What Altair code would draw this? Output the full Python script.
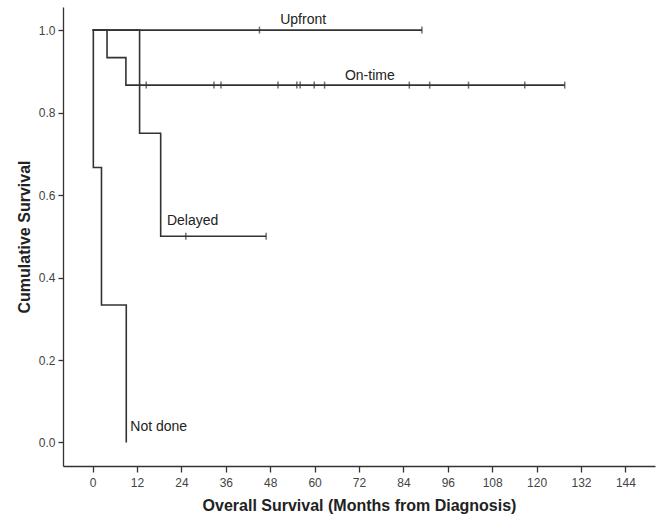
import altair as alt
import pandas as pd

# Kaplan-Meier step curves (months, cumulative survival)
upfront_t = [0, 89.0]
upfront_s = [1.0, 1.0]
ontime_t = [0, 3.9, 9.0, 127.6]
ontime_s = [1.0, 14 / 15, 13 / 15, 13 / 15]
delayed_t = [0, 12.7, 18.4, 46.9]
delayed_s = [1.0, 0.75, 0.5, 0.5]
notdone_t = [0, 0.2, 2.4, 9.1]
notdone_s = [1.0, 2 / 3, 1 / 3, 0.0]

# censored observations
upfront_cens = [45.1, 89.0]
ontime_cens = [14.5, 32.8, 34.7, 50.1, 55.2, 56.1, 59.9, 62.7, 85.6, 91.1, 101.6, 116.8, 127.6]
delayed_cens = [25.2, 46.9]

# group labels and their anchor positions (data coordinates)
label_names = ["Upfront", "On-time", "Delayed", "Not done"]
label_x = [50.7, 68.2, 20.1, 10.2]
label_y = [1.024, 0.888, 0.537, 0.038]

x_ticks = [0, 12, 24, 36, 48, 60, 72, 84, 96, 108, 120, 132, 144]
y_ticks = [0.0, 0.2, 0.4, 0.6, 0.8, 1.0]

rows = []
for g, ts, ss in [("Upfront", upfront_t, upfront_s), ("On-time", ontime_t, ontime_s),
                  ("Delayed", delayed_t, delayed_s), ("Not done", notdone_t, notdone_s)]:
    for i, (t, s) in enumerate(zip(ts, ss)):
        rows.append({"group": g, "t": t, "s": s, "order": i})
curves = pd.DataFrame(rows)

crows = []
for g, cs, sv in [("Upfront", upfront_cens, 1.0), ("On-time", ontime_cens, 13 / 15),
                  ("Delayed", delayed_cens, 0.5)]:
    for c in cs:
        crows.append({"group": g, "t": c, "s": sv})
cens = pd.DataFrame(crows)

labels = pd.DataFrame({"name": label_names, "x": label_x, "y": label_y})

FONT = "Liberation Sans"
INK = "#333333"

xscale = alt.Scale(domain=[-8, 152], nice=False, zero=False)
yscale = alt.Scale(domain=[-0.057, 1.056], nice=False, zero=False)

xaxis = alt.Axis(values=x_ticks, title="Overall Survival (Months from Diagnosis)", grid=False,
                 tickSize=6, labelPadding=5, labelFontSize=12, labelFont=FONT, labelColor="#444444",
                 titleFont=FONT, titleFontSize=16, titleFontWeight="bold", titleColor="#222222",
                 titlePadding=9, domainColor=INK, tickColor=INK, domainWidth=1.3, tickWidth=1.3)
yaxis = alt.Axis(values=y_ticks, format=".1f", title="Cumulative Survival", grid=False,
                 tickSize=5, labelPadding=3, labelFontSize=12, labelFont=FONT, labelColor="#444444",
                 titleFont=FONT, titleFontSize=16, titleFontWeight="bold", titleColor="#222222",
                 titlePadding=6, domainColor=INK, tickColor=INK, domainWidth=1.3, tickWidth=1.3)

lines = alt.Chart(curves).mark_line(interpolate="step-after", color=INK, strokeWidth=1.6).encode(
    x=alt.X("t:Q", scale=xscale, axis=xaxis),
    y=alt.Y("s:Q", scale=yscale, axis=yaxis),
    detail="group:N",
    order="order:Q",
)

ticks = alt.Chart(cens).mark_tick(orient="vertical", color=INK, size=7, thickness=1.5).encode(
    x=alt.X("t:Q", scale=xscale),
    y=alt.Y("s:Q", scale=yscale),
)

text = alt.Chart(labels).mark_text(align="left", baseline="middle", font=FONT, fontSize=14,
                                   color="#222222").encode(
    x=alt.X("x:Q", scale=xscale),
    y=alt.Y("y:Q", scale=yscale),
    text="name:N",
)

chart = alt.layer(lines, ticks, text).properties(
    width=592, height=459,
    padding={"left": 63, "top": 7, "right": 6, "bottom": 56},
    autosize=alt.AutoSizeParams(type="none"),
    background="white",
).configure_view(stroke=None)

chart.save("out.html", embed_options={"renderer": "svg", "actions": False})
